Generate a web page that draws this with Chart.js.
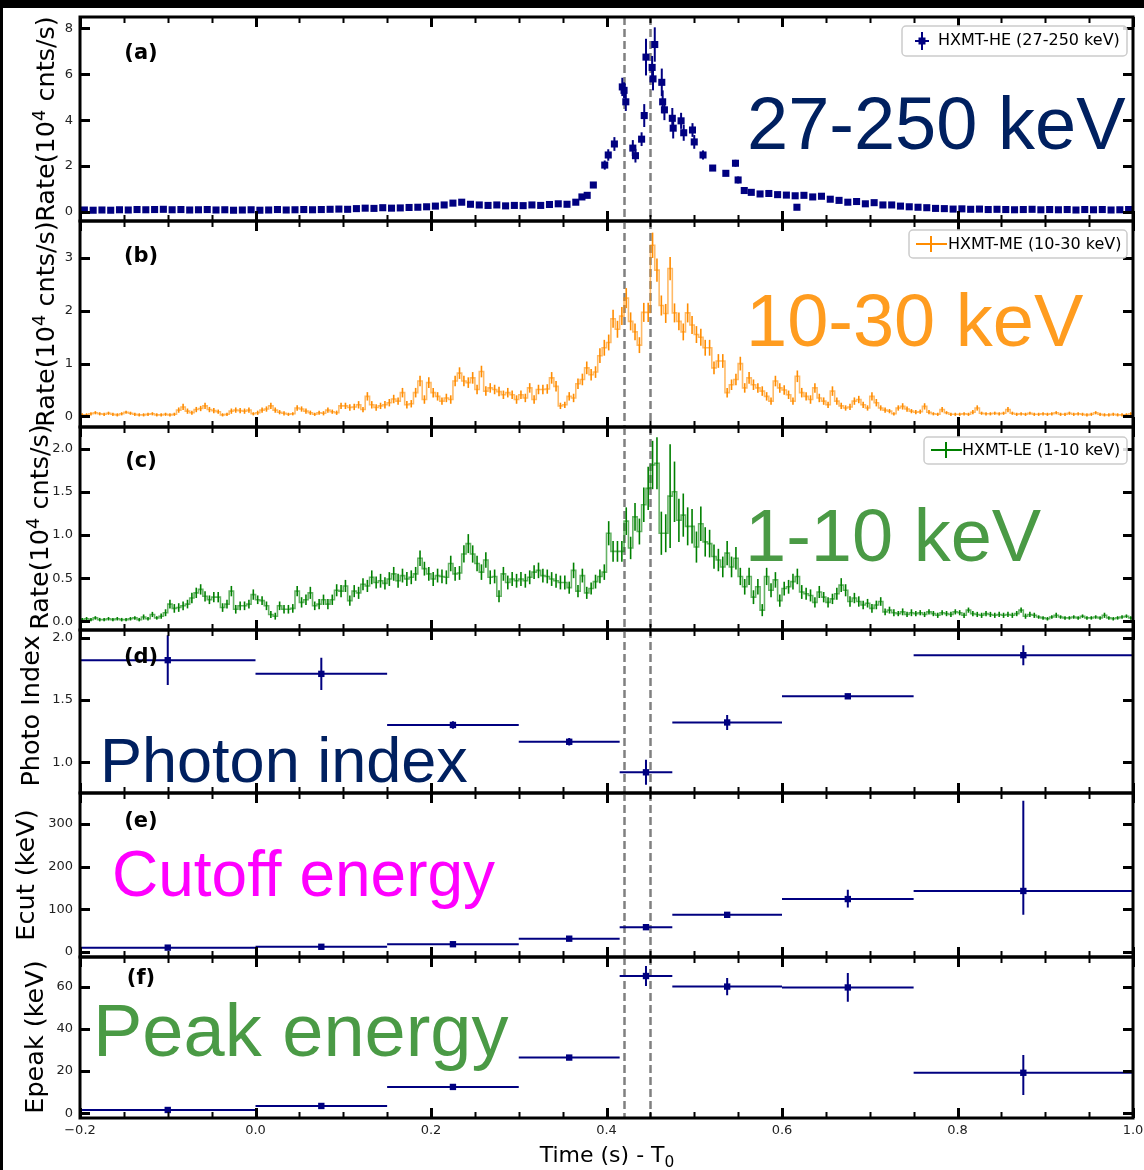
<!DOCTYPE html>
<html>
<head>
<meta charset="utf-8">
<title>HXMT light curves and spectral evolution</title>
<script src="https://cdn.jsdelivr.net/npm/chart.js@4.4.1/dist/chart.umd.min.js"></script>
<style>
  html, body { margin:0; padding:0; width:1144px; height:1170px; background:#000; overflow:hidden; }
  #sheet { position:absolute; left:3px; top:8px; width:1141px; height:1162px; background:#fff; z-index:0; }
  canvas { position:absolute; left:0; z-index:2; }
  .lbl { position:absolute; white-space:nowrap; z-index:5; line-height:1; }
  .ytitle { font-family:'DejaVu Sans'; font-size:25.5px; color:#000; transform:translate(-50%,-50%) rotate(-90deg); }
  .ytitle sup, .xtitle sub { font-size:0.7em; line-height:0; }
  .tag { font-family:'DejaVu Sans'; font-weight:bold; font-size:21px; color:#000; transform:translate(-50%,-50%); }
  .big { font-family:'Liberation Sans', Arial, sans-serif; }
  .xtitle { font-family:'DejaVu Sans'; font-size:22px; color:#000; transform:translate(-50%,-50%); }
</style>
</head>
<body>
<div id="sheet"></div>
<script>
// ---------------- data ----------------
// time axis (s since T0)
const xMajorTicks = [-0.2, 0.0, 0.2, 0.4, 0.6, 0.8, 1.0];
const eventTimes = [0.42, 0.45];

// HXMT-HE 27-250 keV (10^4 cnts/s)
const heTime = [-0.195,-0.185,-0.175,-0.165,-0.155,-0.145,-0.135,-0.125,-0.115,-0.105,
  -0.095,-0.085,-0.075,-0.065,-0.055,-0.045,-0.035,-0.025,-0.015,-0.005,
  0.005,0.015,0.025,0.035,0.045,0.055,0.065,0.075,0.085,0.095,
  0.105,0.115,0.125,0.135,0.145,0.155,0.165,0.175,0.185,0.195,
  0.205,0.215,0.225,0.235,0.245,0.255,0.265,0.275,0.285,0.295,
  0.305,0.315,0.325,0.335,0.345,0.355,0.365,
  0.372,0.378,0.385,0.398,0.402,0.409,0.418,0.420,0.422,
  0.430,0.433,0.440,0.443,0.445,0.452,0.453,0.455,0.463,0.464,
  0.466,0.475,0.476,0.485,0.488,0.498,0.500,0.510,0.521,0.536,
  0.547,0.550,0.557,
  0.565,0.575,0.585,0.595,0.605,0.615,0.617,0.625,0.635,0.645,
  0.655,0.665,0.675,0.685,0.695,0.705,0.715,0.725,0.735,0.745,
  0.755,0.765,0.775,0.785,0.795,0.805,0.815,0.825,0.835,0.845,
  0.855,0.865,0.875,0.885,0.895,0.905,0.915,0.925,0.935,0.945,
  0.955,0.965,0.975,0.985,0.995];
const heRate = [0.08,0.07,0.08,0.07,0.09,0.08,0.10,0.09,0.10,0.11,
  0.09,0.10,0.08,0.09,0.10,0.08,0.09,0.07,0.08,0.09,
  0.07,0.08,0.10,0.08,0.09,0.10,0.09,0.10,0.11,0.12,
  0.11,0.14,0.16,0.15,0.18,0.16,0.17,0.19,0.20,0.22,
  0.25,0.30,0.38,0.42,0.33,0.30,0.28,0.30,0.26,0.28,
  0.27,0.30,0.28,0.32,0.35,0.33,0.42,
  0.65,0.72,1.17,2.04,2.48,2.96,5.45,5.30,4.80,
  2.78,2.45,3.17,4.20,6.75,6.30,5.80,7.30,5.65,4.80,
  4.45,4.08,3.65,3.97,3.45,3.57,3.05,2.48,1.91,1.68,
  2.12,1.39,0.93,
  0.85,0.78,0.80,0.75,0.73,0.70,0.20,0.72,0.65,0.68,
  0.55,0.50,0.42,0.45,0.35,0.40,0.30,0.30,0.25,0.22,
  0.20,0.18,0.15,0.14,0.12,0.13,0.11,0.12,0.10,0.11,
  0.10,0.09,0.10,0.11,0.09,0.10,0.09,0.10,0.08,0.10,
  0.09,0.10,0.08,0.09,0.10];
const heErr = [0.04,0.04,0.04,0.04,0.04,0.04,0.04,0.04,0.04,0.04,
  0.04,0.04,0.04,0.04,0.04,0.04,0.04,0.04,0.04,0.04,
  0.04,0.04,0.04,0.04,0.04,0.04,0.04,0.04,0.04,0.04,
  0.04,0.04,0.05,0.05,0.05,0.05,0.05,0.05,0.05,0.05,
  0.05,0.06,0.06,0.07,0.06,0.06,0.06,0.06,0.06,0.06,
  0.06,0.06,0.06,0.06,0.06,0.06,0.07,
  0.08,0.10,0.12,0.20,0.25,0.30,0.40,0.35,0.40,
  0.35,0.30,0.30,0.50,0.80,0.50,0.50,0.75,0.60,0.50,
  0.45,0.45,0.45,0.35,0.35,0.30,0.30,0.20,0.12,0.12,
  0.15,0.15,0.10,
  0.07,0.07,0.07,0.07,0.07,0.07,0.05,0.07,0.07,0.07,
  0.06,0.06,0.06,0.06,0.05,0.05,0.05,0.05,0.05,0.05,
  0.04,0.04,0.04,0.04,0.04,0.04,0.04,0.04,0.04,0.04,
  0.04,0.04,0.04,0.04,0.04,0.04,0.04,0.04,0.04,0.04,
  0.04,0.04,0.04,0.04,0.04];

// ME / LE light curves: 5 ms bins starting at -0.2 s
const lcStart = -0.2;
const lcBin = 0.005;

// HXMT-ME 10-30 keV (10^4 cnts/s)
const meRate = [
  0.03,0.03,0.05,0.07,0.05,0.04,0.06,0.04,0.03,0.05,
  0.08,0.06,0.04,0.03,0.03,0.04,0.05,0.03,0.03,0.04,
  0.03,0.04,0.12,0.18,0.10,0.07,0.13,0.15,0.20,0.13,
  0.11,0.09,0.03,0.04,0.10,0.12,0.11,0.10,0.12,0.05,
  0.07,0.12,0.14,0.20,0.12,0.08,0.06,0.04,0.05,0.16,
  0.14,0.10,0.07,0.04,0.07,0.06,0.12,0.09,0.07,0.20,
  0.20,0.17,0.18,0.22,0.13,0.38,0.22,0.17,0.20,0.22,
  0.26,0.33,0.29,0.45,0.22,0.24,0.45,0.67,0.32,0.64,
  0.45,0.38,0.29,0.35,0.32,0.67,0.82,0.67,0.64,0.73,
  0.51,0.85,0.48,0.54,0.51,0.47,0.41,0.45,0.41,0.32,
  0.41,0.35,0.54,0.32,0.51,0.51,0.52,0.73,0.57,0.20,
  0.22,0.38,0.35,0.62,0.70,0.92,0.79,0.84,1.15,1.30,
  1.40,1.85,1.65,1.90,2.24,1.80,1.60,1.35,1.97,1.97,
  3.24,2.77,2.10,1.95,2.80,1.96,1.80,1.60,1.96,1.73,
  1.55,1.50,1.30,1.30,0.92,1.05,1.05,0.45,0.60,0.70,
  1.00,0.54,0.73,0.60,0.54,0.48,0.38,0.29,0.67,0.54,
  0.50,0.41,0.29,0.76,0.45,0.38,0.32,0.54,0.35,0.29,
  0.22,0.48,0.29,0.20,0.16,0.18,0.29,0.32,0.22,0.16,
  0.38,0.26,0.16,0.12,0.10,0.05,0.16,0.19,0.14,0.10,
  0.08,0.09,0.19,0.08,0.05,0.04,0.13,0.07,0.04,0.04,
  0.04,0.05,0.04,0.08,0.16,0.06,0.05,0.05,0.06,0.05,
  0.06,0.13,0.06,0.04,0.05,0.04,0.06,0.04,0.04,0.05,
  0.04,0.05,0.07,0.04,0.04,0.06,0.04,0.05,0.04,0.03,
  0.04,0.07,0.04,0.03,0.03,0.04,0.03,0.03,0.03,0.05];
const meErr = [
  0.03,0.03,0.03,0.03,0.03,0.03,0.03,0.03,0.03,0.03,
  0.03,0.03,0.03,0.03,0.03,0.03,0.03,0.03,0.03,0.03,
  0.03,0.03,0.05,0.06,0.05,0.04,0.05,0.05,0.06,0.05,
  0.05,0.04,0.03,0.03,0.05,0.05,0.05,0.05,0.05,0.03,
  0.04,0.05,0.05,0.06,0.05,0.04,0.04,0.03,0.03,0.05,
  0.05,0.05,0.04,0.03,0.04,0.04,0.05,0.04,0.04,0.06,
  0.06,0.06,0.06,0.07,0.05,0.08,0.07,0.06,0.06,0.07,
  0.07,0.08,0.07,0.09,0.07,0.07,0.09,0.10,0.08,0.10,
  0.09,0.08,0.07,0.08,0.08,0.10,0.11,0.10,0.10,0.11,
  0.09,0.11,0.09,0.09,0.09,0.09,0.08,0.09,0.08,0.08,
  0.08,0.08,0.09,0.08,0.09,0.09,0.09,0.11,0.10,0.06,
  0.06,0.08,0.08,0.10,0.11,0.12,0.11,0.11,0.14,0.15,
  0.15,0.17,0.16,0.17,0.19,0.17,0.16,0.15,0.18,0.18,
  0.24,0.22,0.19,0.18,0.22,0.18,0.17,0.16,0.18,0.17,
  0.16,0.16,0.15,0.15,0.12,0.13,0.13,0.09,0.10,0.11,
  0.13,0.09,0.11,0.10,0.09,0.09,0.08,0.07,0.10,0.09,
  0.09,0.08,0.07,0.11,0.09,0.08,0.08,0.09,0.08,0.07,
  0.06,0.09,0.07,0.06,0.05,0.06,0.07,0.07,0.06,0.05,
  0.08,0.07,0.05,0.05,0.04,0.03,0.05,0.06,0.05,0.04,
  0.04,0.04,0.06,0.04,0.03,0.03,0.05,0.03,0.03,0.03,
  0.03,0.03,0.03,0.04,0.05,0.03,0.03,0.03,0.03,0.03,
  0.03,0.05,0.03,0.03,0.03,0.03,0.03,0.03,0.03,0.03,
  0.03,0.03,0.03,0.03,0.03,0.03,0.03,0.03,0.03,0.03,
  0.03,0.03,0.03,0.03,0.03,0.03,0.03,0.03,0.03,0.03];

// HXMT-LE 1-10 keV (10^4 cnts/s)
const leRate = [
  0.02,0.03,0.02,0.04,0.02,0.02,0.03,0.02,0.03,0.02,
  0.02,0.03,0.04,0.02,0.05,0.03,0.08,0.04,0.06,0.10,
  0.20,0.15,0.16,0.18,0.20,0.27,0.33,0.37,0.29,0.25,
  0.28,0.28,0.16,0.20,0.35,0.14,0.18,0.18,0.20,0.31,
  0.25,0.24,0.18,0.08,0.06,0.18,0.14,0.14,0.15,0.35,
  0.22,0.25,0.33,0.18,0.20,0.25,0.20,0.25,0.36,0.35,
  0.41,0.24,0.35,0.33,0.43,0.41,0.51,0.45,0.47,0.44,
  0.49,0.55,0.47,0.53,0.49,0.51,0.55,0.73,0.61,0.55,
  0.49,0.53,0.52,0.51,0.67,0.55,0.56,0.78,0.90,0.78,
  0.67,0.57,0.71,0.51,0.52,0.29,0.55,0.45,0.49,0.47,
  0.49,0.47,0.51,0.57,0.59,0.53,0.52,0.49,0.47,0.45,
  0.45,0.39,0.59,0.35,0.53,0.33,0.38,0.46,0.52,0.57,
  1.02,0.81,0.81,0.81,1.16,0.85,1.21,1.04,1.35,1.54,
  1.81,1.83,1.02,1.02,1.45,1.50,1.17,1.23,1.10,1.10,
  0.86,1.13,0.92,0.90,0.75,0.71,0.63,0.79,0.63,0.73,
  0.52,0.40,0.52,0.28,0.40,0.13,0.52,0.36,0.48,0.24,
  0.38,0.40,0.46,0.52,0.34,0.32,0.30,0.22,0.34,0.28,
  0.22,0.26,0.32,0.42,0.36,0.23,0.27,0.23,0.19,0.21,
  0.15,0.19,0.23,0.11,0.13,0.10,0.09,0.11,0.08,0.10,
  0.09,0.10,0.08,0.11,0.09,0.07,0.10,0.09,0.08,0.11,
  0.10,0.07,0.13,0.09,0.08,0.07,0.09,0.08,0.07,0.08,
  0.07,0.08,0.07,0.09,0.13,0.06,0.08,0.07,0.05,0.04,
  0.03,0.05,0.07,0.05,0.04,0.04,0.05,0.04,0.06,0.04,
  0.04,0.05,0.04,0.07,0.04,0.03,0.04,0.05,0.06,0.04];
const leErr = [
  0.02,0.02,0.02,0.02,0.02,0.02,0.02,0.02,0.02,0.02,
  0.02,0.02,0.02,0.02,0.03,0.02,0.03,0.02,0.03,0.04,
  0.05,0.05,0.05,0.05,0.05,0.06,0.06,0.06,0.06,0.05,
  0.06,0.06,0.05,0.05,0.06,0.05,0.05,0.05,0.05,0.06,
  0.05,0.05,0.05,0.04,0.04,0.05,0.05,0.05,0.05,0.06,
  0.06,0.06,0.07,0.05,0.06,0.06,0.06,0.06,0.07,0.07,
  0.07,0.06,0.07,0.07,0.07,0.07,0.08,0.07,0.08,0.07,
  0.08,0.08,0.08,0.08,0.08,0.08,0.08,0.09,0.08,0.08,
  0.08,0.08,0.08,0.08,0.09,0.08,0.08,0.10,0.11,0.10,
  0.09,0.09,0.09,0.08,0.08,0.07,0.08,0.08,0.08,0.08,
  0.08,0.08,0.08,0.08,0.09,0.08,0.08,0.08,0.08,0.08,
  0.08,0.07,0.09,0.07,0.08,0.07,0.07,0.08,0.08,0.09,
  0.14,0.12,0.12,0.12,0.16,0.13,0.16,0.15,0.20,0.25,
  0.28,0.30,0.25,0.22,0.60,0.35,0.25,0.25,0.22,0.20,
  0.18,0.20,0.17,0.16,0.14,0.13,0.12,0.14,0.12,0.13,
  0.10,0.09,0.10,0.08,0.09,0.07,0.10,0.08,0.09,0.07,
  0.08,0.08,0.09,0.09,0.08,0.07,0.07,0.06,0.07,0.06,
  0.06,0.06,0.07,0.08,0.07,0.06,0.06,0.06,0.05,0.05,
  0.05,0.05,0.05,0.04,0.04,0.04,0.03,0.04,0.03,0.04,
  0.03,0.03,0.03,0.03,0.03,0.03,0.03,0.03,0.03,0.03,
  0.03,0.03,0.03,0.03,0.03,0.03,0.03,0.03,0.03,0.03,
  0.03,0.03,0.03,0.03,0.03,0.03,0.03,0.03,0.02,0.02,
  0.02,0.02,0.03,0.02,0.02,0.02,0.02,0.02,0.02,0.02,
  0.02,0.02,0.02,0.03,0.02,0.02,0.02,0.02,0.02,0.02];

// time-resolved spectral fits
const specTime = [-0.1, 0.075, 0.225, 0.3575, 0.445, 0.5375, 0.675, 0.875];
const specLo   = [-0.2, 0.0, 0.15, 0.3, 0.415, 0.475, 0.6, 0.75];
const specHi   = [0.0, 0.15, 0.3, 0.415, 0.475, 0.6, 0.75, 1.0];
const photonIndex    = [1.82, 1.71, 1.30, 1.165, 0.92, 1.32, 1.53, 1.86];
const photonIndexErr = [0.20, 0.13, 0.03, 0.03, 0.10, 0.06, 0.02, 0.08];
const ecut      = [10, 12, 18, 31, 58, 87, 124, 143];
const ecutErrLo = [2, 2, 2, 3, 4, 6, 20, 56];
const ecutErrHi = [2, 2, 2, 3, 4, 6, 22, 212];
const epeak      = [1.6, 3.5, 12.5, 26.4, 65.0, 60.0, 59.6, 19.2];
const epeakErrLo = [1.0, 1.0, 1.0, 1.0, 4.7, 4.1, 6.8, 10.5];
const epeakErrHi = [1.0, 1.0, 1.0, 1.0, 4.7, 4.1, 6.8, 8.4];

// y tick labels per panel
const heTicks = [0, 2, 4, 6, 8];
const meTicks = [0, 1, 2, 3];
const leTicks = [0, 0.5, 1.0, 1.5, 2.0];
const indexTicks = [1.0, 1.5, 2.0];
const ecutTicks = [0, 100, 200, 300];
const epeakTicks = [0, 20, 40, 60];

// ---------------- drawing ----------------
const NAVY = '#000080';
const ORANGE = '#ff8c00';
const GREEN = '#008000';
const PLOT_LEFT = 80, PLOT_RIGHT = 1133, PAGE_W = 1144;
const TICK_FONT = { family: 'DejaVu Sans', size: 13 };

function drawBars(ctx, xs, ys, b) {
  ctx.strokeStyle = b.color;
  ctx.lineWidth = b.width;
  for (let i = 0; i < b.x.length; i++) {
    const px = xs.getPixelForValue(b.x[i]);
    ctx.beginPath();
    ctx.moveTo(px, ys.getPixelForValue(b.lo[i]));
    ctx.lineTo(px, ys.getPixelForValue(b.hi[i]));
    if (b.xlo) {
      const py = ys.getPixelForValue(b.y[i]);
      ctx.moveTo(xs.getPixelForValue(b.xlo[i]), py);
      ctx.lineTo(xs.getPixelForValue(b.xhi[i]), py);
    }
    ctx.stroke();
  }
}

function roundRect(ctx, x, y, w, h, r) {
  ctx.beginPath();
  ctx.moveTo(x + r, y);
  ctx.arcTo(x + w, y, x + w, y + h, r);
  ctx.arcTo(x + w, y + h, x, y + h, r);
  ctx.arcTo(x, y + h, x, y, r);
  ctx.arcTo(x, y, x + w, y, r);
  ctx.closePath();
}

function decorPlugin(canvasTop, yTicks, legend) {
  return {
    id: 'decor',
    beforeDatasetsDraw(chart) {
      const { ctx, chartArea: a, scales: { x, y } } = chart;
      ctx.save();
      ctx.beginPath();
      ctx.rect(a.left, a.top, a.right - a.left, a.bottom - a.top);
      ctx.clip();
      ctx.strokeStyle = '#808080';
      ctx.lineWidth = 2.5;
      ctx.setLineDash([8, 4]);
      for (const t of eventTimes) {
        const px = Math.round(x.getPixelForValue(t)) + 0.5;
        ctx.beginPath(); ctx.moveTo(px, a.top); ctx.lineTo(px, a.bottom); ctx.stroke();
      }
      ctx.setLineDash([]);
      chart.data.datasets.forEach(ds => { if (ds.bars && ds.bars.layer === 'under') drawBars(ctx, x, y, ds.bars); });
      ctx.restore();
    },
    afterDatasetsDraw(chart) {
      const { ctx, chartArea: a, scales: { x, y } } = chart;
      ctx.save();
      ctx.beginPath();
      ctx.rect(a.left, a.top, a.right - a.left, a.bottom - a.top);
      ctx.clip();
      chart.data.datasets.forEach(ds => { if (ds.bars && ds.bars.layer === 'over') drawBars(ctx, x, y, ds.bars); });
      ctx.restore();
    },
    afterDraw(chart) {
      const { ctx, chartArea: a, scales: { x, y } } = chart;
      ctx.save();
      ctx.strokeStyle = '#000';
      // time ticks every 0.05 s, longer at labelled values
      for (let k = -4; k <= 20; k++) {
        const t = k * 0.05;
        const major = (k % 4 === 0);
        const len = major ? 10 : 6;
        const px = Math.round(x.getPixelForValue(t)) + 0.5;
        ctx.lineWidth = major ? 3 : 2;
        ctx.beginPath();
        ctx.moveTo(px, a.top); ctx.lineTo(px, a.top + len);
        ctx.moveTo(px, a.bottom); ctx.lineTo(px, a.bottom - len);
        ctx.stroke();
      }
      ctx.lineWidth = 3;
      for (const v of yTicks) {
        const py = Math.round(y.getPixelForValue(v)) + 0.5;
        ctx.beginPath();
        ctx.moveTo(a.left, py); ctx.lineTo(a.left + 10, py);
        ctx.moveTo(a.right, py); ctx.lineTo(a.right - 10, py);
        ctx.stroke();
      }
      ctx.strokeRect(a.left, a.top, a.right - a.left, a.bottom - a.top);
      if (legend) {
        const oy = -canvasTop;
        roundRect(ctx, legend.box[0], legend.box[1] + oy, legend.box[2], legend.box[3], 4);
        ctx.fillStyle = 'rgba(255,255,255,0.85)';
        ctx.fill();
        ctx.strokeStyle = '#cccccc';
        ctx.lineWidth = 1.5;
        ctx.stroke();
        const sx = legend.sym[0], sy = legend.sym[1] + oy;
        ctx.strokeStyle = legend.color;
        ctx.fillStyle = legend.color;
        ctx.lineWidth = 2;
        ctx.beginPath();
        if (legend.kind === 'marker') {
          ctx.moveTo(sx, sy - 9); ctx.lineTo(sx, sy + 9);
          ctx.moveTo(sx - 7, sy); ctx.lineTo(sx + 7, sy);
          ctx.stroke();
          ctx.fillRect(sx - 3.5, sy - 3.5, 7, 7);
        } else {
          ctx.moveTo(sx - 15, sy); ctx.lineTo(sx + 16, sy);
          ctx.moveTo(sx, sy - 8); ctx.lineTo(sx, sy + 8);
          ctx.stroke();
        }
        ctx.fillStyle = '#000';
        ctx.font = '16px "DejaVu Sans"';
        ctx.textBaseline = 'middle';
        ctx.textAlign = 'left';
        ctx.fillText(legend.text, legend.textX, legend.textY + oy);
      }
      ctx.restore();
    }
  };
}

function fmtTime(v) {
  return (v < -1e-9 ? '\u2212' : '') + Math.abs(v).toFixed(1);
}

function makePanel(p) {
  const padTop = 12;
  const padBottom = p.last ? 0 : 12;
  const xAxisH = p.last ? 40 : 0;
  const canvasTop = p.top - padTop;
  const h = (p.bottom - p.top) + padTop + padBottom + xAxisH;
  const cv = document.createElement('canvas');
  cv.width = PAGE_W; cv.height = h;
  cv.style.top = canvasTop + 'px';
  cv.style.width = PAGE_W + 'px';
  cv.style.height = h + 'px';
  document.body.appendChild(cv);
  return new Chart(cv.getContext('2d'), {
    type: 'scatter',
    data: { datasets: p.datasets },
    options: {
      responsive: false,
      animation: false,
      devicePixelRatio: 1,
      events: [],
      layout: { padding: { left: 0, right: PAGE_W - PLOT_RIGHT, top: padTop, bottom: padBottom } },
      plugins: { legend: { display: false }, tooltip: { enabled: false } },
      scales: {
        x: {
          type: 'linear', min: -0.2, max: 1.0,
          display: !!p.last,
          grid: { display: false, drawTicks: false },
          border: { display: false },
          ticks: { font: TICK_FONT, color: '#222', padding: 5, maxRotation: 0,
                   callback: v => fmtTime(v) },
          afterBuildTicks: s => { s.ticks = xMajorTicks.map(v => ({ value: v })); },
          afterFit: s => { s.height = xAxisH; s.paddingLeft = 0; s.paddingRight = 0; }
        },
        y: {
          type: 'linear', min: p.yMin, max: p.yMax,
          grid: { display: false, drawTicks: false },
          border: { display: false },
          ticks: { font: TICK_FONT, color: '#222', padding: 7,
                   callback: v => v.toFixed(p.decimals) },
          afterBuildTicks: s => { s.ticks = p.yTicks.map(v => ({ value: v })); },
          afterFit: s => { s.width = PLOT_LEFT; s.paddingTop = 0; s.paddingBottom = 0; }
        }
      }
    },
    plugins: [decorPlugin(canvasTop, p.yTicks, p.legend)]
  });
}

// helpers to turn the arrays into dataset objects
function pts(xs, ys) { return xs.map((t, i) => ({ x: t, y: ys[i] })); }
function lcEdges(n) { const e = []; for (let i = 0; i <= n; i++) e.push(+(lcStart + i * lcBin).toFixed(4)); return e; }
function stepData(vals) {
  const e = lcEdges(vals.length);
  const d = vals.map((v, i) => ({ x: e[i], y: v }));
  d.push({ x: e[vals.length], y: vals[vals.length - 1] });
  return d;
}
function lcBars(vals, errs, color) {
  const e = lcEdges(vals.length);
  return { layer: 'over', color, width: 1.6,
    x: vals.map((v, i) => +(e[i] + lcBin / 2).toFixed(4)),
    lo: vals.map((v, i) => v - errs[i]), hi: vals.map((v, i) => v + errs[i]) };
}
function specDataset(vals, lo, hi) {
  return {
    data: pts(specTime, vals),
    pointStyle: 'rect', pointRadius: 4.5, pointBackgroundColor: NAVY, pointBorderWidth: 0,
    bars: { layer: 'under', color: NAVY, width: 2, x: specTime, y: vals,
      lo: vals.map((v, i) => v - lo[i]), hi: vals.map((v, i) => v + hi[i]), xlo: specLo, xhi: specHi }
  };
}

const bounds = [17, 221, 427, 630, 793, 957, 1118];

makePanel({
  top: bounds[0], bottom: bounds[1], yMin: -0.4, yMax: 8.5, yTicks: heTicks, decimals: 0,
  datasets: [{
    data: pts(heTime, heRate),
    pointStyle: 'rect', pointRadius: 5, pointBackgroundColor: NAVY, pointBorderWidth: 0,
    bars: { layer: 'under', color: NAVY, width: 2, x: heTime,
      lo: heRate.map((v, i) => v - heErr[i]), hi: heRate.map((v, i) => v + heErr[i]) }
  }],
  legend: { box: [902, 26, 225, 30], sym: [922, 41], kind: 'marker', color: NAVY,
    text: 'HXMT-HE (27-250 keV)', textX: 938, textY: 41 }
});

makePanel({
  top: bounds[1], bottom: bounds[2], yMin: -0.2, yMax: 3.7, yTicks: meTicks, decimals: 0,
  datasets: [{
    data: stepData(meRate), showLine: true, stepped: true, pointRadius: 0,
    borderColor: 'rgba(255,140,0,0.6)', borderWidth: 1.6,
    bars: lcBars(meRate, meErr, ORANGE)
  }],
  legend: { box: [909, 230, 218, 28], sym: [931, 244], kind: 'line', color: ORANGE,
    text: 'HXMT-ME (10-30 keV)', textX: 948, textY: 245 }
});

makePanel({
  top: bounds[2], bottom: bounds[3], yMin: -0.1, yMax: 2.25, yTicks: leTicks, decimals: 1,
  datasets: [{
    data: stepData(leRate), showLine: true, stepped: true, pointRadius: 0,
    borderColor: 'rgba(0,128,0,0.6)', borderWidth: 1.6,
    bars: lcBars(leRate, leErr, GREEN)
  }],
  legend: { box: [924, 437, 203, 27], sym: [946, 450], kind: 'line', color: GREEN,
    text: 'HXMT-LE (1-10 keV)', textX: 962, textY: 451 }
});

makePanel({ top: bounds[3], bottom: bounds[4], yMin: 0.754, yMax: 2.062, yTicks: indexTicks, decimals: 1,
  datasets: [specDataset(photonIndex, photonIndexErr, photonIndexErr)] });

makePanel({ top: bounds[4], bottom: bounds[5], yMin: -12, yMax: 373, yTicks: ecutTicks, decimals: 0,
  datasets: [specDataset(ecut, ecutErrLo, ecutErrHi)] });

makePanel({ top: bounds[5], bottom: bounds[6], yMin: -2.2, yMax: 74, yTicks: epeakTicks, decimals: 0,
  last: true, datasets: [specDataset(epeak, epeakErrLo, epeakErrHi)] });

// ---------------- text layer ----------------
function addLabel(cls, html, css) {
  const d = document.createElement('div');
  d.className = 'lbl ' + cls;
  d.innerHTML = html;
  d.style.cssText += css;
  document.body.appendChild(d);
}
const rateTitle = 'Rate(10<sup>4</sup> cnts/s)';
addLabel('ytitle', rateTitle, 'left:46px;top:119px;');
addLabel('ytitle', rateTitle, 'left:46px;top:324px;');
addLabel('ytitle', rateTitle, 'left:40px;top:527px;');
addLabel('ytitle', 'Photo Index', 'left:31px;top:711px;');
addLabel('ytitle', 'Ecut (keV)', 'left:26px;top:875px;');
addLabel('ytitle', 'Epeak (keV)', 'left:35px;top:1037px;');
addLabel('xtitle', 'Time (s) - T<sub>0</sub>', 'left:607px;top:1155px;');

addLabel('tag', '(a)', 'left:141px;top:52px;');
addLabel('tag', '(b)', 'left:141px;top:255px;');
addLabel('tag', '(c)', 'left:141px;top:460px;');
addLabel('tag', '(d)', 'left:141px;top:656px;');
addLabel('tag', '(e)', 'left:141px;top:820px;');
addLabel('tag', '(f)', 'left:141px;top:977px;');

// large annotations: positioned by baseline (line-height 1 => baseline at 0.8465 em)
function addBig(text, color, size, x, baseline) {
  addLabel('big', text, `left:${x}px;top:${(baseline - 0.8465 * size).toFixed(1)}px;font-size:${size}px;color:${color};`);
}
addBig('27-250 keV', '#002060', 74, 747, 150);
addBig('10-30 keV', '#ff9c1f', 74, 746, 347);
addBig('1-10 keV', '#4a9a45', 74, 745, 562);
addBig('Photon index', '#002060', 63, 100, 782);
addBig('Cutoff energy', '#ff00ff', 64, 112, 896);
addBig('Peak energy', '#4a9a45', 74, 93, 1057);
</script>
</body>
</html>
